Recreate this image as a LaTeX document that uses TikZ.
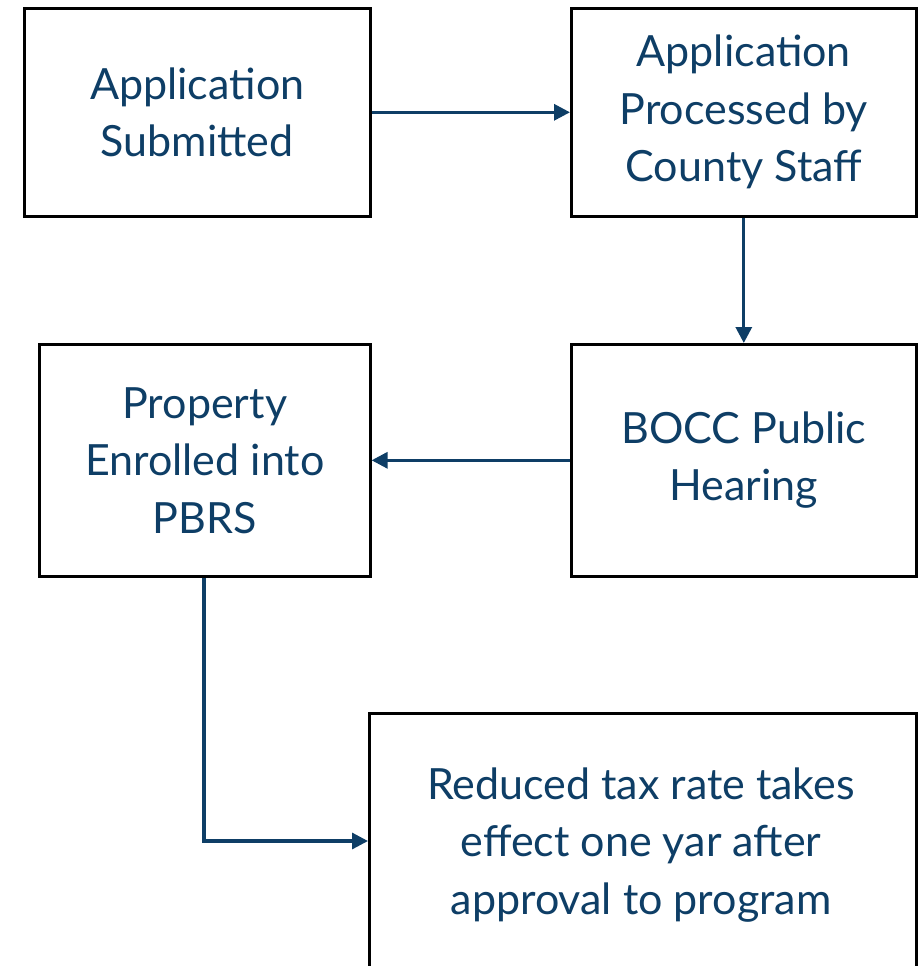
\documentclass[tikz,border=0pt]{standalone}
\usepackage{fontspec}
\setmainfont{Lato}
\usetikzlibrary{arrows.meta}
\definecolor{txtblue}{RGB}{14,62,102}
\begin{document}
\begin{tikzpicture}[x=1pt,y=1pt,
  txt/.style={align=center,text=txtblue,font=\fontsize{43}{57.5}\selectfont},
  box/.style={txt,draw=black,line width=2.6pt,fill=white,anchor=north west,inner sep=0pt},
  flow/.style={draw=txtblue,line width=3.2pt,-{Triangle[length=16pt,width=16pt]}}]
\useasboundingbox (0,0) rectangle (918,-966);
\node[box,minimum width=346pt,minimum height=208pt] (a) at (23,-7) {Application\\Submitted};
\node[box,minimum width=345pt,minimum height=208pt] (b) at (570,-7) {Application\\Processed by\\County Staff};
\node[box,minimum width=345pt,minimum height=232pt] (c) at (570,-343) {BOCC Public\\Hearing};
\node[box,minimum width=331pt,minimum height=232pt] (d) at (38,-343) {Property\\Enrolled into\\PBRS};
\begin{scope}
\clip (0,0) rectangle (918,-966);
\node[box,minimum width=547pt,minimum height=270pt] (e) at (368,-712) {};
\node[txt] (et) at (641,-845) {Reduced tax rate takes\\effect one yar after\\approval to program};
\end{scope}
\draw[flow] (a.east) -- (b.west);
\draw[flow] (b.south) -- (c.north);
\draw[flow] (c.west) -- (d.east);
\coordinate (k) at (204,-841);
\draw[flow] (d.south -| k) -- (k) -- (k -| e.west);
\end{tikzpicture}
\end{document}
